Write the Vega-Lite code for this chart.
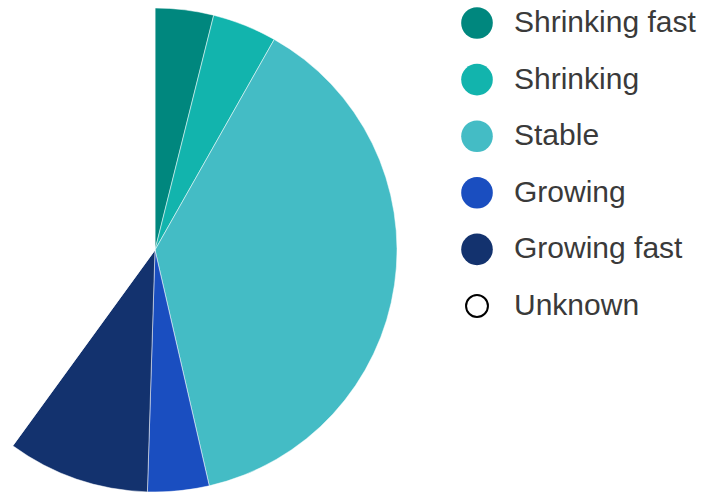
{
  "$schema": "https://vega.github.io/schema/vega-lite/v6.json",
  "width": 310,
  "height": 500,
  "autosize": {"type": "none"},
  "padding": {"left": 0, "top": 0, "right": 398, "bottom": 0},
  "background": "white",
  "view": {"stroke": null},
  "data": {
    "values": [
      {"category": "Shrinking fast", "value": 3.9, "order": 1},
      {"category": "Shrinking", "value": 4.3, "order": 2},
      {"category": "Stable", "value": 38.2, "order": 3},
      {"category": "Growing", "value": 4.1, "order": 4},
      {"category": "Growing fast", "value": 9.5, "order": 5},
      {"category": "Unknown", "value": 40.0, "order": 6}
    ]
  },
  "mark": {"type": "arc", "outerRadius": 242, "stroke": "#ffffff", "strokeWidth": 0.5},
  "encoding": {
    "theta": {"field": "value", "type": "quantitative", "stack": true},
    "order": {"field": "order", "type": "quantitative"},
    "color": {
      "field": "category",
      "type": "nominal",
      "sort": ["Shrinking fast", "Shrinking", "Stable", "Growing", "Growing fast", "Unknown"],
      "scale": {
        "domain": ["Shrinking fast", "Shrinking", "Stable", "Growing", "Growing fast", "Unknown"],
        "range": ["#00877e", "#12b4ad", "#44bcc5", "#1a4ec0", "#13326e", "#ffffff"]
      },
      "legend": {
        "title": null,
        "orient": "none",
        "legendX": 462,
        "legendY": 8,
        "padding": 0,
        "gridAlign": "all",
        "symbolType": "circle",
        "symbolSize": {"expr": "datum.value === 'Unknown' ? 480 : 1000"},
        "symbolStrokeColor": {"expr": "datum.value === 'Unknown' ? '#000000' : 'transparent'"},
        "symbolStrokeWidth": {"expr": "datum.value === 'Unknown' ? 2 : 0"},
        "labelFont": "Liberation Sans",
        "labelFontSize": 30,
        "labelColor": "#3a3a3a",
        "labelOffset": 22,
        "labelLimit": 400,
        "rowPadding": 24.6
      }
    }
  }
}
